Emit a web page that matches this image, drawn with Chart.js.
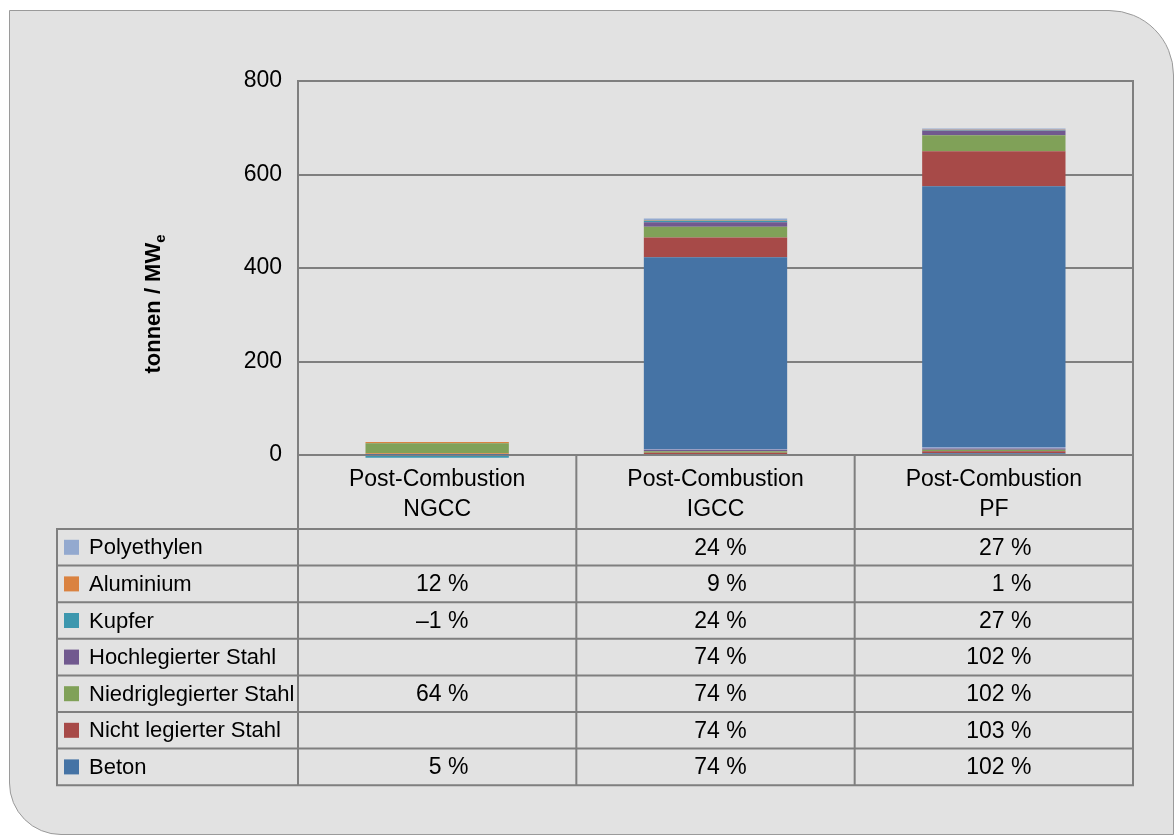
<!DOCTYPE html>
<html>
<head>
<meta charset="utf-8">
<script src="https://cdn.jsdelivr.net/npm/chart.js@4.4.1/dist/chart.umd.min.js"></script>
<style>
  body { margin: 0; background: #ffffff; }
  #frame {
    position: absolute; left: 9px; top: 10px;
    width: 1163px; height: 823px;
    background: #e2e2e2;
    border: 1px solid #9a9a9a;
    border-radius: 0 65px 0 52px;
  }
  #holder { position: absolute; left: 0; top: 0; width: 1175px; height: 836px; }
</style>
</head>
<body>
<div id="frame"></div>
<div id="holder">
  <canvas id="myChart" width="1175" height="836"></canvas>
</div>

<script>
// categories
var categories = [['Post-Combustion', 'NGCC'], ['Post-Combustion', 'IGCC'], ['Post-Combustion', 'PF']];
var yTicks = [0, 200, 400, 600, 800];

// series names and colours (stack order, bottom first)
var seriesNames = ['Beton', 'Nicht legierter Stahl', 'Niedriglegierter Stahl', 'Hochlegierter Stahl', 'Kupfer', 'Aluminium', 'Polyethylen'];
var seriesColors = ['#4573a5', '#a74a48', '#80a158', '#71598f', '#3d97ae', '#da8240', '#93a9cf'];

// tonnes / MWe, thin layers at the foot of each bar
var baseBeton   = [0.5, 2, 4];
var baseNicht   = [0, 3, 4];
var baseNiedrig = [0, 3, 3];
var baseHoch    = [0.5, 3, 3];
var baseKupfer  = [-6, 0, 0];
var baseAlu     = [3, 0, 0];
var basePoly    = [0, 2, 3];

// tonnes / MWe, main layers
var beton   = [0, 410, 558];
var nicht   = [0, 42, 75];
var niedrig = [21, 23.5, 34];
var hoch    = [0, 9.5, 9.5];
var kupfer  = [0, 3, 1];
var alu     = [2.8, 1, 1];
var poly    = [0, 4, 3];

// percentages shown in the data table
var pctBeton   = [5, 74, 102];
var pctNicht   = [null, 74, 103];
var pctNiedrig = [64, 74, 102];
var pctHoch    = [null, 74, 102];
var pctKupfer  = [-1, 24, 27];
var pctAlu     = [12, 9, 1];
var pctPoly    = [null, 24, 27];

var baseData = [baseBeton, baseNicht, baseNiedrig, baseHoch, baseKupfer, baseAlu, basePoly];
var mainData = [beton, nicht, niedrig, hoch, kupfer, alu, poly];
var pctData = [pctBeton, pctNicht, pctNiedrig, pctHoch, pctKupfer, pctAlu, pctPoly];

var FONT = "'Liberation Sans', Arial, sans-serif";
var LINE = '#7f7f7f';

var datasets = [];
baseData.forEach(function (d, i) {
    datasets.push({ label: seriesNames[i], data: d, backgroundColor: seriesColors[i], clip: false });
});
mainData.forEach(function (d, i) {
    datasets.push({ label: seriesNames[i], data: d, backgroundColor: seriesColors[i], clip: false });
});

function fmtPct(v) {
    if (v === null) return '';
    return (v < 0 ? '\u2013' + Math.abs(v) : String(v)) + ' %';
}

var tablePlugin = {
    id: 'dataTable',
    afterDraw: function (chart) {
        var ctx = chart.ctx;
        var area = chart.chartArea;
        var xs = chart.scales.x;
        var half = (xs.getPixelForValue(1) - xs.getPixelForValue(0)) / 2;
        var headBottom = area.bottom + 74;
        var rowH = 36.6;
        var nRows = seriesNames.length;
        var tableBottom = headBottom + rowH * nRows;
        var tableLeft = 57;

        ctx.save();
        ctx.strokeStyle = LINE;
        ctx.lineWidth = 2;

        // vertical lines
        ctx.beginPath();
        ctx.moveTo(area.left, area.bottom); ctx.lineTo(area.left, tableBottom);
        ctx.moveTo(area.right, area.top - 1); ctx.lineTo(area.right, tableBottom);
        for (var c = 1; c < categories.length; c++) {
            var xb = xs.getPixelForValue(c) - half;
            ctx.moveTo(xb, area.bottom); ctx.lineTo(xb, tableBottom);
        }
        ctx.moveTo(tableLeft, headBottom); ctx.lineTo(tableLeft, tableBottom);
        // horizontal lines
        for (var r = 0; r <= nRows; r++) {
            var yy = headBottom + r * rowH;
            ctx.moveTo(tableLeft - 1, yy); ctx.lineTo(area.right + 1, yy);
        }
        ctx.stroke();

        // category labels
        ctx.fillStyle = '#000';
        ctx.font = '23px ' + FONT;
        ctx.textAlign = 'center';
        ctx.textBaseline = 'middle';
        categories.forEach(function (lines, i) {
            var cx = xs.getPixelForValue(i);
            ctx.fillText(lines[0], cx, area.bottom + 25);
            ctx.fillText(lines[1], cx, area.bottom + 55);
        });

        // rows: top row is the last series
        for (var k = 0; k < nRows; k++) {
            var s = nRows - 1 - k;
            var yc = headBottom + k * rowH + rowH / 2;
            ctx.fillStyle = seriesColors[s];
            ctx.fillRect(64, yc - 7.5, 15, 15);
            ctx.fillStyle = '#000';
            ctx.font = '22px ' + FONT;
            ctx.textAlign = 'left';
            ctx.fillText(seriesNames[s], 89, yc + 1);
        }

        // values, right aligned a little right of column centre
        ctx.font = '23px ' + FONT;
        ctx.textAlign = 'right';
        categories.forEach(function (lines, i) {
            var maxW = 0;
            pctData.forEach(function (arr) {
                maxW = Math.max(maxW, ctx.measureText(fmtPct(arr[i])).width);
            });
            var xr = xs.getPixelForValue(i) + maxW / 2 + 5;
            for (var k = 0; k < nRows; k++) {
                var s = nRows - 1 - k;
                var yc = headBottom + k * rowH + rowH / 2;
                ctx.fillText(fmtPct(pctData[s][i]), xr, yc + 1);
            }
        });

        // axis title with subscript
        ctx.translate(160, 304);
        ctx.rotate(-Math.PI / 2);
        ctx.textAlign = 'left';
        ctx.textBaseline = 'alphabetic';
        var main = 'tonnen / MW';
        ctx.font = 'bold 22px ' + FONT;
        var w1 = ctx.measureText(main).width;
        ctx.font = 'bold 15px ' + FONT;
        var w2 = ctx.measureText('e').width;
        var x0 = -(w1 + w2) / 2;
        ctx.font = 'bold 22px ' + FONT;
        ctx.fillText(main, x0, 0);
        ctx.font = 'bold 15px ' + FONT;
        ctx.fillText('e', x0 + w1, 5);
        ctx.restore();
    }
};

var ctx = document.getElementById('myChart').getContext('2d');

var config = {
    type: 'bar',
    data: {
        labels: categories.map(function (l) { return l.join(' '); }),
        datasets: datasets
    },
    options: {
        responsive: false,
        devicePixelRatio: 1,
        animation: false,
        categoryPercentage: 0.515,
        barPercentage: 1,
        layout: {
            padding: { left: 0, right: 42, top: 81, bottom: 381 }
        },
        plugins: {
            legend: { display: false },
            tooltip: { enabled: false },
            title: { display: false }
        },
        scales: {
            x: {
                stacked: true,
                display: false
            },
            y: {
                stacked: true,
                min: 0,
                max: 800,
                afterFit: function (scale) { scale.width = 298; },
                afterBuildTicks: function (scale) {
                    scale.ticks = yTicks.map(function (v) { return { value: v }; });
                },
                grid: { color: LINE, lineWidth: 2, drawTicks: false },
                border: { display: true, color: LINE, width: 2 },
                ticks: {
                    padding: 16,
                    color: '#000',
                    font: { family: FONT, size: 23 }
                }
            }
        }
    },
    plugins: [tablePlugin]
};

window.myBars = new Chart(ctx, config);
</script>
</body>
</html>
